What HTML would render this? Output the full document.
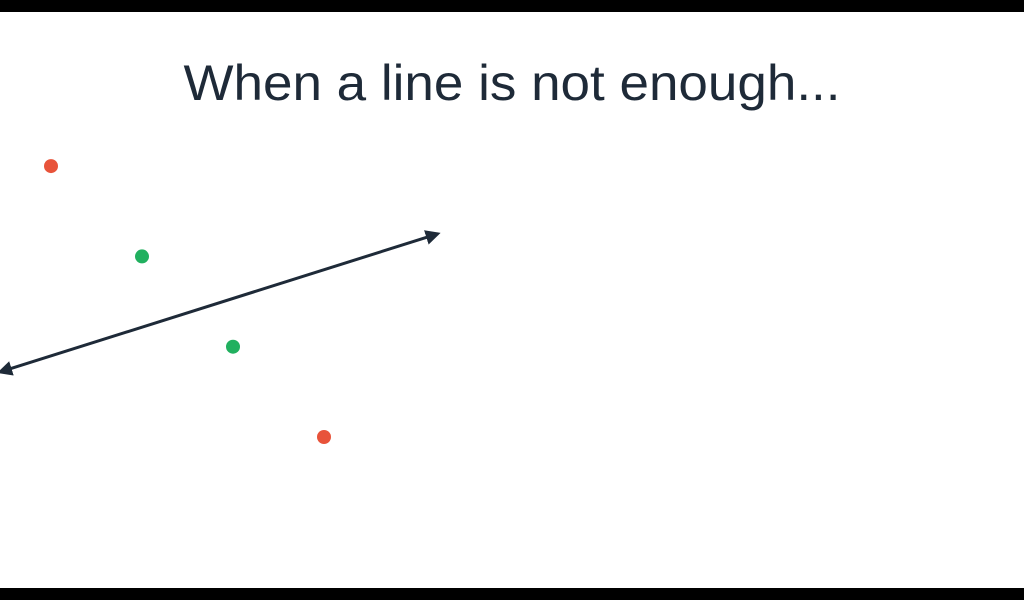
<!DOCTYPE html>
<html><head><meta charset="utf-8"><style>
html,body{margin:0;padding:0;background:#fff;}
svg{display:block;}
</style></head><body>
<svg width="1024" height="600" viewBox="0 0 1024 600">
<rect x="0" y="0" width="1024" height="600" fill="#fff"/>
<rect x="0" y="0" width="1024" height="12" fill="#000"/>
<rect x="0" y="588" width="1024" height="12" fill="#000"/>
<text x="512" y="100" text-anchor="middle" font-family="'Liberation Sans', sans-serif" font-size="50" fill="#1e2a38" textLength="657" lengthAdjust="spacingAndGlyphs">When a line is not enough...</text>
<defs>
<marker id="ah" viewBox="0 0 10 10" refX="8" refY="5" markerWidth="5" markerHeight="5" orient="auto-start-reverse"><path d="M0,0 L10,5 L0,10 z" fill="#1e2a38"/></marker>
</defs>
<g id="plot"></g>
</svg>
<script>
const xs = [1, 2, 3, 4];
const ys = [4, 3, 2, 1];
const classes = ['red', 'green', 'green', 'red'];
const lineX = [0.44, 5.25];
const lineY = [1.72, 3.25];
const sx = v => 51 + (v - 1) * 91;
const sy = v => 437 - (v - 1) * 90.3;
const colors = {red:'#e8533a', green:'#21b05f'};
const ns = 'http://www.w3.org/2000/svg';
const g = document.getElementById('plot');
const ln = document.createElementNS(ns, 'line');
ln.setAttribute('x1', sx(lineX[0])); ln.setAttribute('y1', sy(lineY[0]));
ln.setAttribute('x2', sx(lineX[1])); ln.setAttribute('y2', sy(lineY[1]));
ln.setAttribute('stroke', '#1e2a38'); ln.setAttribute('stroke-width', '3');
ln.setAttribute('marker-start', 'url(#ah)'); ln.setAttribute('marker-end', 'url(#ah)');


g.appendChild(ln);
xs.forEach((x, i) => {
  const c = document.createElementNS(ns, 'circle');
  c.setAttribute('cx', sx(x)); c.setAttribute('cy', sy(ys[i])); c.setAttribute('r', '7');
  c.setAttribute('fill', colors[classes[i]]);
  
  
  g.appendChild(c);
});
</script>
</body></html>
